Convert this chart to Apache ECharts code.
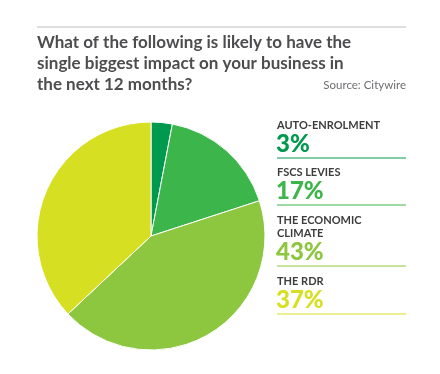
<!DOCTYPE html>
<html><head><meta charset="utf-8">
<script src="https://cdn.jsdelivr.net/npm/echarts@6/dist/echarts.min.js"></script>
<style>html,body{margin:0;padding:0;background:#fff}#c{width:440px;height:374px}</style>
</head><body><div id="c"></div>
<script>
var categories = ['AUTO-ENROLMENT', 'FSCS LEVIES', 'THE ECONOMIC\nCLIMATE', 'THE RDR'];
var values = [3, 17, 43, 37];
var colors = ['#009a4e', '#3cb54a', '#8dc63f', '#d7df23'];
var titleLines = 'What of the following is likely to have the\nsingle biggest impact on your business in\nthe next 12 months?';
var sourceText = 'Source: Citywire';

var chart = echarts.init(document.getElementById('c'), null, {renderer: 'canvas'});
var graphics = [
  {type: 'line', shape: {x1: 37, y1: 27, x2: 406, y2: 27}, style: {stroke: '#bdbdbd', lineWidth: 1}},
  {type: 'text', left: 37, top: 32, style: {text: titleLines, font: 'bold 17px Lato', fill: '#4d4d4f', lineHeight: 21}},
  {type: 'text', right: 34, top: 79, style: {text: sourceText, font: '11.5px Lato', fill: '#6d6e71'}}
];
var tops = [119, 166, 214, 275];
for (var i = 0; i < categories.length; i++) {
  var nLines = categories[i].split('\n').length;
  var y = tops[i];
  graphics.push({type: 'text', left: 277, top: y, style: {text: categories[i], font: 'bold 11px Lato', fill: '#3d3d3f', lineHeight: 13}});
  var py = y + 13 * nLines;
  graphics.push({type: 'text', left: 276, top: py, style: {text: values[i] + '%', font: '900 24px Lato', fill: colors[i]}});
  graphics.push({type: 'line', shape: {x1: 277, y1: py + 26, x2: 406, y2: py + 26}, style: {stroke: colors[i], lineWidth: 1}});
}
chart.setOption({
  animation: false,
  graphic: graphics,
  series: [{
    type: 'pie',
    center: [151, 236],
    radius: [0, 114],
    startAngle: 90,
    clockwise: true,
    label: {show: false},
    labelLine: {show: false},
    itemStyle: {borderColor: '#fff', borderWidth: 1},
    data: categories.map(function (c, i) { return {name: c, value: values[i], itemStyle: {color: colors[i]}}; })
  }]
});
</script></body></html>
